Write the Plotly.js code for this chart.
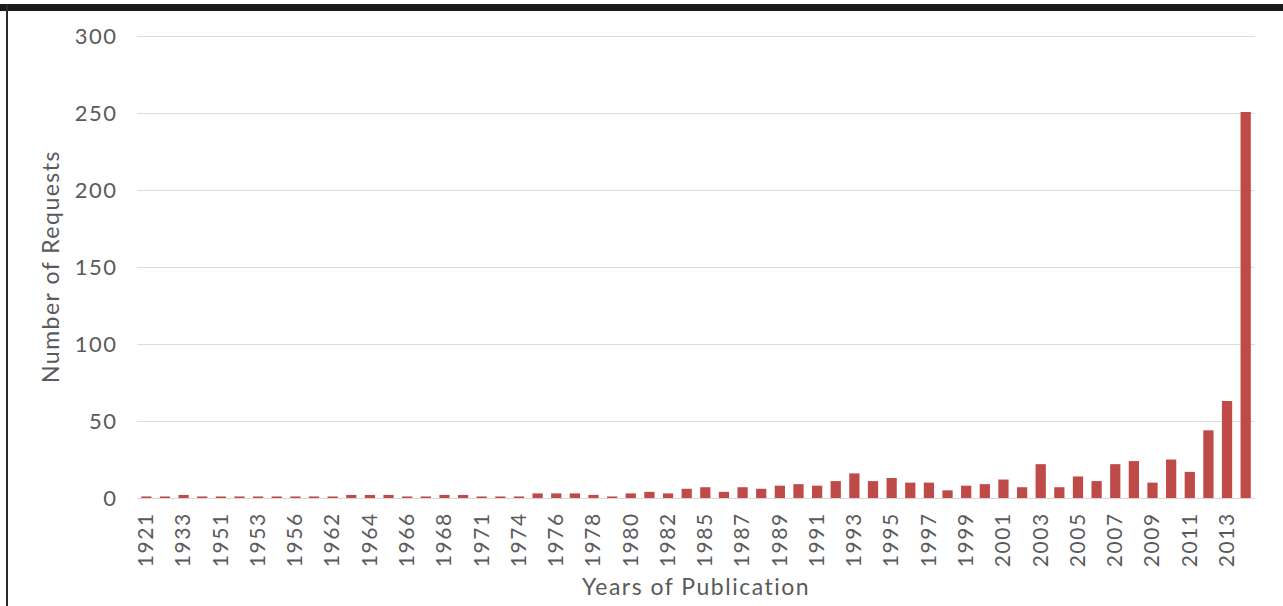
<!DOCTYPE html>
<html>
<head>
<meta charset="utf-8">
<script src="https://cdn.plot.ly/plotly-3.0.1.min.js"></script>
<style>
  html, body { margin: 0; padding: 0; background: #fff; }
  #wrap { position: relative; width: 1283px; height: 606px; overflow: hidden; }
  #chart { position: absolute; left: 0; top: 0; width: 1283px; height: 606px; }
  #chart svg text { letter-spacing: 1.5px; }
  #topbar { position: absolute; left: 0; top: 4px; width: 1283px; height: 7px; background: #1a1a1a; }
  #leftbar { position: absolute; left: 6px; top: 4px; width: 2px; height: 602px; background: #2a2a2a; }
</style>
</head>
<body>
<div id="wrap">
  <div id="chart"></div>
  <div id="topbar"></div>
  <div id="leftbar"></div>
</div>
<script>
const years = [
  "1921","1926","1933","1940","1951","1952","1953","1954","1956","1960",
  "1962","1963","1964","1965","1966","1967","1968","1969","1971","1972",
  "1974","1975","1976","1977","1978","1979","1980","1981","1982","1983",
  "1985","1986","1987","1988","1989","1990","1991","1992","1993","1994",
  "1995","1996","1997","1998","1999","2000","2001","2002","2003","2004",
  "2005","2006","2007","2008","2009","2010","2011","2012","2013","2014"
];
const requests = [
  1, 1, 2, 1, 1, 1, 1, 1, 1, 1,
  1, 2, 2, 2, 1, 1, 2, 2, 1, 1,
  1, 3, 3, 3, 2, 1, 3, 4, 3, 6,
  7, 4, 7, 6, 8, 9, 8, 11, 16, 11,
  13, 10, 10, 5, 8, 9, 12, 7, 22, 7,
  14, 11, 22, 24, 10, 25, 17, 44, 63, 251
];
const labeledYears = years.filter((y, i) => i % 2 === 0);
const yTicks = [0, 50, 100, 150, 200, 250, 300];

const fontFam = "Lato, 'Open Sans', sans-serif";
const textColor = "#5a5a5a";
const trace = {
  type: "bar",
  x: years,
  y: requests,
  marker: { color: "#bf4b48" },
  hoverinfo: "x+y"
};
const layout = {
  width: 1283,
  height: 606,
  margin: { l: 137, r: 28, t: 35, b: 108, pad: 0 },
  paper_bgcolor: "#ffffff",
  plot_bgcolor: "#ffffff",
  bargap: 0.45,
  showlegend: false,
  font: { family: fontFam, color: textColor, size: 20 },
  xaxis: {
    type: "category",
    range: [-0.5, years.length - 0.5],
    tickmode: "array",
    tickvals: labeledYears,
    ticktext: labeledYears,
    tickangle: -90,
    tickfont: { family: fontFam, size: 21, color: textColor },
    ticks: "outside",
    ticklen: 5,
    tickcolor: "rgba(0,0,0,0)",
    showgrid: false,
    showline: true,
    linecolor: "#d9d9d9",
    linewidth: 1,
    zeroline: false,
    title: { text: "Years of Publication", font: { family: fontFam, size: 23, color: textColor }, standoff: 18 }
  },
  yaxis: {
    range: [0, 301],
    tickmode: "array",
    tickvals: yTicks,
    tickfont: { family: fontFam, size: 22, color: textColor },
    ticks: "outside",
    ticklen: 14,
    tickcolor: "rgba(0,0,0,0)",
    showgrid: true,
    gridcolor: "#dcdcdc",
    gridwidth: 1,
    zeroline: false,
    showline: false,
    title: { text: "Number of Requests", font: { family: fontFam, size: 23, color: textColor }, standoff: 13 }
  }
};
Plotly.newPlot("chart", [trace], layout, { displayModeBar: false, staticPlot: true });
</script>
</body>
</html>
